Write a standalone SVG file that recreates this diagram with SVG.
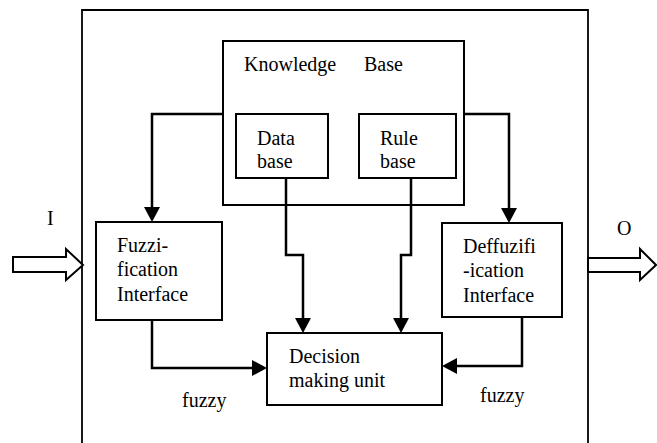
<svg xmlns="http://www.w3.org/2000/svg" width="657" height="443" viewBox="0 0 657 443">
<style>
.box{fill:#fff;stroke:#000;stroke-width:2}
.con{fill:none;stroke:#000;stroke-width:2.5}
.hollow{fill:#fff;stroke:#000;stroke-width:2}
.t{font-family:'Liberation Serif','Times New Roman',serif;font-size:20px;fill:#000}
</style>
<defs>
<marker id="arr" viewBox="0 0 15 16" markerWidth="15" markerHeight="16" refX="5" refY="8" orient="auto" markerUnits="userSpaceOnUse">
<path d="M0,0 L15,8 L0,16 z" fill="#000"/>
</marker>
</defs>
<rect width="657" height="443" fill="#fff"/>
<g id="system">
<path d="M82,450 V10 H588 V450" fill="none" stroke="#000" stroke-width="1.8"/>
</g>
<g id="input">
<polygon class="hollow" points="13,257 66,257 66,249 83,265 66,280 66,272 13,272"/>
<text class="t" x="47" y="225">I</text>
</g>
<g id="output">
<polygon class="hollow" points="588,258 640,258 640,249 656,265 640,280 640,272 588,272"/>
<text class="t" x="617" y="235">O</text>
</g>
<g id="knowledge-base">
<rect class="box" x="223" y="41" width="241" height="164"/>
<text class="t" x="244" y="71">Knowledge</text>
<text class="t" x="364" y="71">Base</text>
</g>
<g id="data-base">
<rect class="box" x="236" y="114" width="92" height="64"/>
<text class="t" x="257" y="145">Data</text>
<text class="t" x="257" y="168">base</text>
</g>
<g id="rule-base">
<rect class="box" x="359" y="114" width="97" height="64"/>
<text class="t" x="380" y="145">Rule</text>
<text class="t" x="380" y="168">base</text>
</g>
<g id="fuzzification">
<rect class="box" x="96" y="222" width="126" height="98"/>
<text class="t" x="117" y="252">Fuzzi-</text>
<text class="t" x="117" y="276">fication</text>
<text class="t" x="117" y="301">Interface</text>
</g>
<g id="defuzzification">
<rect class="box" x="442" y="223" width="120" height="94"/>
<text class="t" x="463" y="253">Deffuzifi</text>
<text class="t" x="463" y="277">-ication</text>
<text class="t" x="463" y="302">Interface</text>
</g>
<g id="decision">
<rect class="box" x="267" y="333" width="175" height="72"/>
<text class="t" x="289" y="363">Decision</text>
<text class="t" x="289" y="387">making unit</text>
</g>
<g id="connectors">
<path class="con" d="M223,114 H152 V212" marker-end="url(#arr)"/>
<path class="con" d="M464,114 H509 V213" marker-end="url(#arr)"/>
<path class="con" d="M286,178 V255 H303 V323" marker-end="url(#arr)"/>
<path class="con" d="M411,178 V255 H401 V323" marker-end="url(#arr)"/>
<path class="con" d="M152,320 V368 H257" marker-end="url(#arr)"/>
<path class="con" d="M522,317 V366 H452" marker-end="url(#arr)"/>
</g>
<g id="labels">
<text class="t" x="182" y="407">fuzzy</text>
<text class="t" x="480" y="402">fuzzy</text>
</g>
</svg>
